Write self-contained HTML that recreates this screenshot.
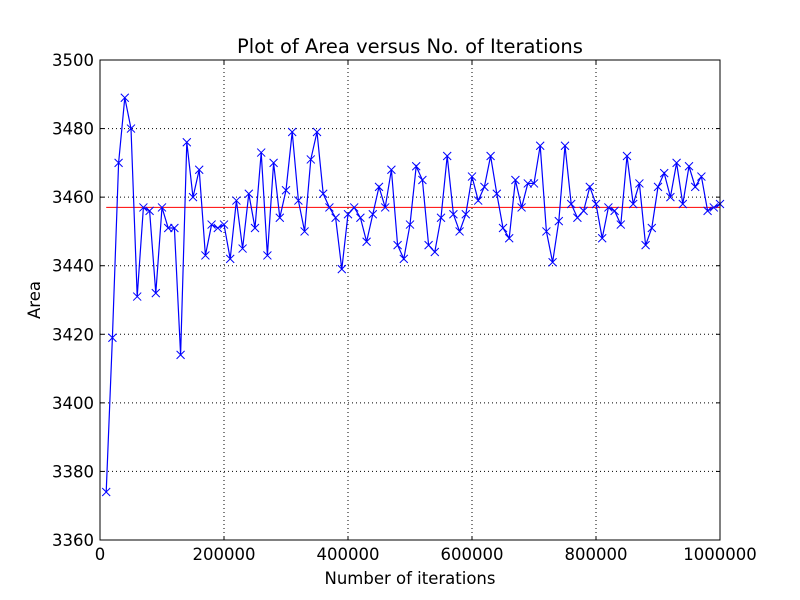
<!DOCTYPE html>
<html><head><meta charset="utf-8"><style>
body{margin:0;background:#fff;}
svg{display:block;font-family:"DejaVu Sans","Liberation Sans",sans-serif;}
</style></head><body>
<svg id="chart" width="800" height="600"></svg>
<script>
const iterations = [];
for (let i = 1; i <= 100; i++) iterations.push(i * 10000);
const areas = [3374,3419,3470,3489,3480,3431,3457,3456,3432,3457,3451,3451,3414,3476,3460,3468,3443,3452,3451,3452,3442,3459,3445,3461,3451,3473,3443,3470,3454,3462,3479,3459,3450,3471,3479,3461,3457,3454,3439,3455,3457,3454,3447,3455,3463,3457,3468,3446,3442,3452,3469,3465,3446,3444,3454,3472,3455,3450,3455,3466,3459,3463,3472,3461,3451,3448,3465,3457,3464,3464,3475,3450,3441,3453,3475,3458,3454,3456,3463,3458,3448,3457,3456,3452,3472,3458,3464,3446,3451,3463,3467,3460,3470,3458,3469,3463,3466,3456,3457,3458];
const meanArea = 3457;
const xTicks = [0,200000,400000,600000,800000,1000000];
const yTicks = [3360,3380,3400,3420,3440,3460,3480,3500];

const L=100,R=720,T=60,B=540;
const sx=v=>L+(v-0)/1000000*(R-L);
const sy=v=>B-(v-3360)/140*(B-T);
const svg=document.getElementById('chart');
const NS='http://www.w3.org/2000/svg';
function mk(tag,attrs,parent){const e=document.createElementNS(NS,tag);for(const k in attrs)e.setAttribute(k,attrs[k]);(parent||svg).appendChild(e);return e;}

const grid=mk('g',{});


xTicks.forEach(t=>{const x=sx(t);mk('line',{x1:x,x2:x,y1:T,y2:B,stroke:'#000','stroke-dasharray':'1,3','stroke-width':1},grid);});
yTicks.forEach(t=>{const y=sy(t);mk('line',{x1:L,x2:R,y1:y,y2:y,stroke:'#000','stroke-dasharray':'1,3','stroke-width':1},grid);});

const mean=mk('line',{x1:sx(iterations[0]),x2:sx(iterations[iterations.length-1]),y1:sy(meanArea),y2:sy(meanArea),stroke:'#ff0000','stroke-width':1});



const pts=iterations.map((v,i)=>sx(v)+','+sy(areas[i])).join(' ');
const line=mk('polyline',{points:pts,fill:'none',stroke:'#0000ff','stroke-width':1.2});


const marks=mk('g',{stroke:'#0000ff','stroke-width':1});


iterations.forEach((v,i)=>{const x=sx(v),y=sy(areas[i]),s=4;
  mk('path',{d:`M${x-s},${y-s}L${x+s},${y+s}M${x-s},${y+s}L${x+s},${y-s}`},marks);});

const frame=mk('rect',{x:L,y:T,width:R-L,height:B-T,fill:'none',stroke:'#000','stroke-width':1});



const ticks=mk('g',{});


xTicks.forEach(t=>{const x=sx(t);
  mk('line',{x1:x,x2:x,y1:B,y2:B-4,stroke:'#000'},ticks);
  mk('line',{x1:x,x2:x,y1:T,y2:T+4,stroke:'#000'},ticks);
  const tx=mk('text',{x:x,y:B+20,'font-size':16.5,'text-anchor':'middle'},ticks);tx.textContent=t;
  
  });
yTicks.forEach(t=>{const y=sy(t);
  mk('line',{x1:L,x2:L+4,y1:y,y2:y,stroke:'#000'},ticks);
  mk('line',{x1:R,x2:R-4,y1:y,y2:y,stroke:'#000'},ticks);
  const tx=mk('text',{x:L-6,y:y+6,'font-size':16.5,'text-anchor':'end'},ticks);tx.textContent=t;
  
  });

const title=mk('text',{x:410,y:53,'font-size':19.5,'text-anchor':'middle'});
title.textContent='Plot of Area versus No. of Iterations';


const xl=mk('text',{x:410,y:584,'font-size':16.5,'text-anchor':'middle'});
xl.textContent='Number of iterations';


const yl=mk('text',{x:40,y:300,'font-size':16.5,'text-anchor':'middle',transform:'rotate(-90 40 300)'});
yl.textContent='Area';


</script>
</body></html>
